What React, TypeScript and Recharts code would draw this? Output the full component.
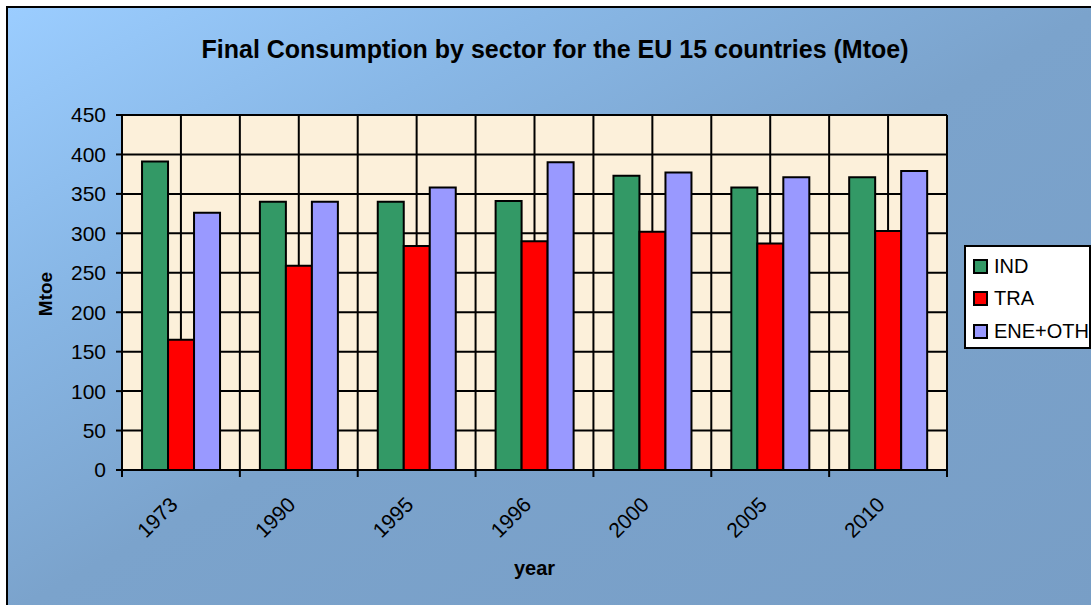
import { BarChart, Bar, XAxis, YAxis, CartesianGrid, Legend } from "recharts";

const years = ["1973", "1990", "1995", "1996", "2000", "2005", "2010"];
const ind = [391, 340, 340, 341, 373, 358, 371];
const tra = [165, 259, 284, 290, 302, 287, 303];
const eneOth = [326, 340, 358, 390, 377, 371, 379];
const yTicks = [0, 50, 100, 150, 200, 250, 300, 350, 400, 450];
const seriesOrder = ["IND", "TRA", "ENE+OTH"];

const data = years.map((year, i) => ({
  year,
  IND: ind[i],
  TRA: tra[i],
  "ENE+OTH": eneOth[i],
}));

const W = 1091;
const H = 605;
const FONT = "'Liberation Sans', Arial, sans-serif";
const M = { top: 115, right: 144, bottom: 25, left: 0 };
const Y_W = 122;
const X_H = 110;
const BAND = (W - Y_W - M.right) / years.length;

const YearTick = (props: any) => {
  const { x, y, payload, index, visibleTicksCount } = props;
  const half = BAND / 2;
  const tx = x - 2;
  const ty = y + 36;
  return (
    <g>
      <line x1={x - half} x2={x - half} y1={y} y2={y + 7} stroke="#000" strokeWidth={2} />
      {index === visibleTicksCount - 1 && (
        <line x1={x + half} x2={x + half} y1={y} y2={y + 7} stroke="#000" strokeWidth={2} />
      )}
      <text x={tx} y={ty} transform={`rotate(-45 ${tx} ${ty})`} textAnchor="end"
        fontSize={21} fontFamily={FONT} fill="#000">
        {payload.value}
      </text>
    </g>
  );
};

const LegendBox = (props: any) => {
  const items = [...(props.payload ?? [])].sort(
    (a: any, b: any) => seriesOrder.indexOf(a.value) - seriesOrder.indexOf(b.value)
  );
  return (
    <div style={{
      background: "#fff", border: "2px solid #000", width: 123, height: 97,
      boxSizing: "content-box", fontFamily: FONT, fontSize: 20, paddingTop: 3,
    }}>
      {items.map((it: any) => (
        <div key={it.value} style={{ display: "flex", alignItems: "center", height: 32.5, paddingLeft: 7 }}>
          <span style={{
            display: "inline-block", width: 11, height: 11, background: it.color,
            border: "2px solid #000", marginRight: 6,
          }} />
          <span>{it.value}</span>
        </div>
      ))}
    </div>
  );
};

export default function App() {
  return (
    <div style={{ position: "absolute", left: 0, top: 0, width: W, height: H, overflow: "hidden" }}>
      <div style={{
        position: "absolute", left: 6, top: 6, width: W, height: H,
        borderTop: "2px solid #000", borderLeft: "2px solid #000",
        background: "linear-gradient(to bottom right, #9bcdff 0%, #88b7e6 25%, #7ba3cc 50%, #789ec6 100%)",
      }} />
      <BarChart width={W} height={H} data={data} margin={M} barCategoryGap="17%" barGap={0}>
        <CartesianGrid
          fill="#fcf0da"
          stroke="#000"
          strokeWidth={2}
          horizontalValues={yTicks}
          verticalCoordinatesGenerator={({ offset }: any) =>
            Array.from({ length: years.length * 2 + 1 }, (_, i) => offset.left + (i * offset.width) / (years.length * 2))
          }
        />
        <XAxis
          dataKey="year"
          height={X_H}
          interval={0}
          tickSize={0}
          tickMargin={0}
          tickLine={false}
          axisLine={{ stroke: "#000", strokeWidth: 2 }}
          tick={<YearTick />}
          label={{
            content: () => (
              <text x={534.5} y={575} textAnchor="middle" fontSize={20} fontWeight="bold" fontFamily={FONT} fill="#000">
                year
              </text>
            ),
          }}
        />
        <YAxis
          width={Y_W}
          domain={[0, 450]}
          ticks={yTicks}
          interval={0}
          tickSize={6}
          tickMargin={10}
          axisLine={{ stroke: "#000", strokeWidth: 2 }}
          tickLine={{ stroke: "#000", strokeWidth: 2 }}
          tick={{ fontSize: 21, fill: "#000", fontFamily: FONT }}
          label={{
            content: () => (
              <text x={45} y={294} transform="rotate(-90 45 294)" textAnchor="middle" dominantBaseline="central"
                fontSize={19} fontWeight="bold" fontFamily={FONT} fill="#000">
                Mtoe
              </text>
            ),
          }}
        />
        <Legend
          layout="vertical"
          align="center"
          verticalAlign="middle"
          wrapperStyle={{ left: 964, top: 245, width: 127 }}
          content={<LegendBox />}
        />
        <Bar dataKey="IND" fill="#339966" stroke="#000" strokeWidth={2} isAnimationActive={false} />
        <Bar dataKey="TRA" fill="#ff0000" stroke="#000" strokeWidth={2} isAnimationActive={false} />
        <Bar dataKey="ENE+OTH" fill="#9999ff" stroke="#000" strokeWidth={2} isAnimationActive={false} />
      </BarChart>
      <div style={{
        position: "absolute", left: 0, top: 35, width: 1110, textAlign: "center",
        fontFamily: FONT, fontSize: 25, fontWeight: "bold", lineHeight: "28px", color: "#000",
      }}>
        Final Consumption by sector for the EU 15 countries (Mtoe)
      </div>
    </div>
  );
}
